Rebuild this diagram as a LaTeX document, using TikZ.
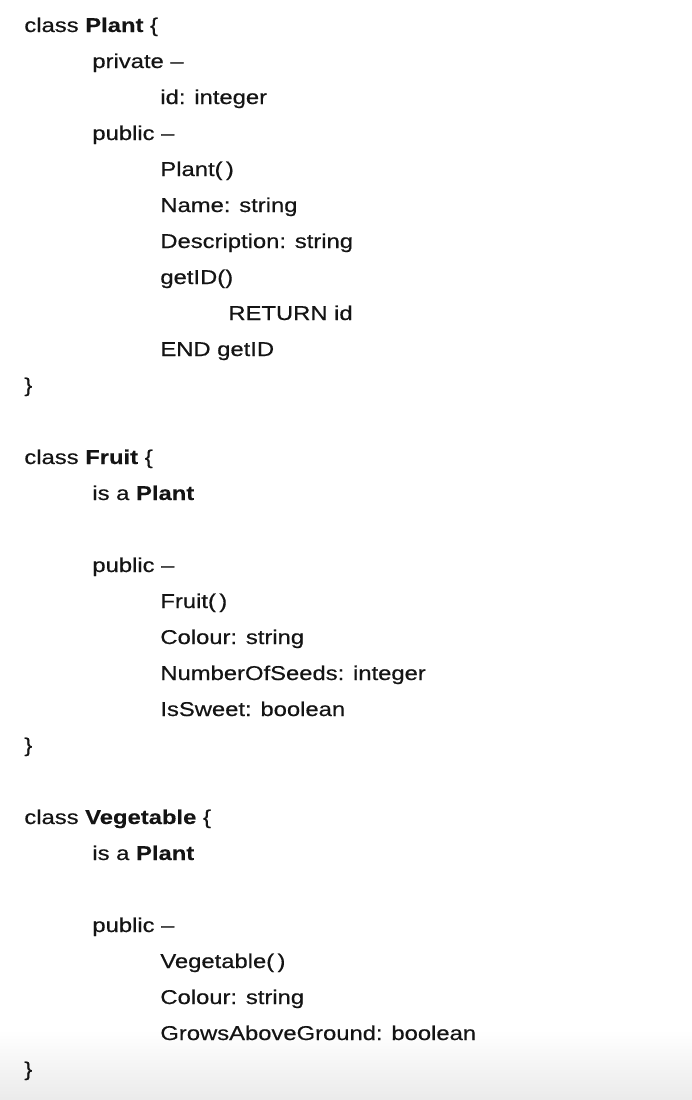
\documentclass[tikz,border=0pt]{standalone}
\usepackage{fontspec}
\setmainfont[FakeStretch=1.19,
  UprightFeatures={FakeBold=0.5},
  BoldFeatures={FakeBold=0.3}]{Liberation Sans}

\begin{document}
\begin{tikzpicture}[x=0.5pt,y=-0.5pt,
   line/.style={anchor=base west,inner sep=0pt,text=black!92,
     font=\fontsize{10}{12}\selectfont}]
   \useasboundingbox (0,0) rectangle (692,1100);
   \shade[top color=white,bottom color=black!8] (0,1030) rectangle (692,1100);

   % class Plant
   \node[line] (plant)     at (24,32)   {class \textbf{Plant} \{};
   \node[line] (plantpriv) at (92,68)   {private –};
   \node[line] (plantid)   at (160,104) {id: integer};
   \node[line] (plantpub)  at (92,140)  {public –};
   \node[line] (plantnew)  at (160,176) {Plant(\,)};
   \node[line] (plantname) at (160,212) {Name: string};
   \node[line] (plantdesc) at (160,248) {Description: string};
   \node[line] (plantget)  at (160,284) {getID()};
   \node[line] (plantret)  at (228,320) {RETURN id};
   \node[line] (plantend)  at (160,356) {END getID};
   \node[line] (plantclose) at (24,392) {\}};

   % class Fruit
   \node[line] (fruit)     at (24,464)  {class \textbf{Fruit} \{};
   \node[line] (fruitisa)  at (92,500)  {is a \textbf{Plant}};
   \node[line] (fruitpub)  at (92,572)  {public –};
   \node[line] (fruitnew)  at (160,608) {Fruit(\,)};
   \node[line] (fruitcol)  at (160,644) {Colour: string};
   \node[line] (fruitseed) at (160,680) {NumberOfSeeds: integer};
   \node[line] (fruitsweet) at (160,716) {IsSweet: boolean};
   \node[line] (fruitclose) at (24,752) {\}};

   % class Vegetable
   \node[line] (veg)       at (24,824)  {class \textbf{Vegetable} \{};
   \node[line] (vegisa)    at (92,860)  {is a \textbf{Plant}};
   \node[line] (vegpub)    at (92,932)  {public –};
   \node[line] (vegnew)    at (160,968) {Vegetable(\,)};
   \node[line] (vegcol)    at (160,1004) {Colour: string};
   \node[line] (vegabove)  at (160,1040) {GrowsAboveGround: boolean};
   \node[line] (vegclose)  at (24,1076) {\}};
\end{tikzpicture}
\end{document}
